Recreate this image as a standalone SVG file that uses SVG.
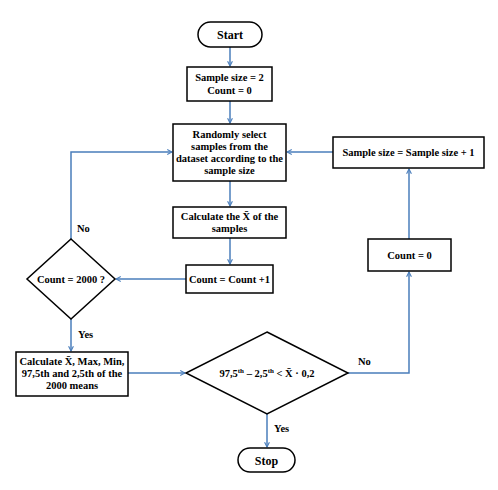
<svg xmlns="http://www.w3.org/2000/svg" width="498" height="490" viewBox="0 0 498 490">
<style>
.s{fill:#fff;stroke:#000;stroke-width:1.5}
.t{font-family:"Liberation Serif","Times New Roman",serif;font-weight:bold;font-size:10.5px;fill:#000;text-anchor:middle}
.c{fill:none;stroke:#4a7ebb;stroke-width:1.5}
.l{font-family:"Liberation Serif","Times New Roman",serif;font-weight:bold;font-size:10.5px;fill:#000}
</style>
<defs>
<marker id="a" viewBox="0 0 10 10" refX="9" refY="5" markerWidth="6" markerHeight="6" orient="auto" markerUnits="userSpaceOnUse">
<path d="M1,1 L9,5 L1,9" fill="none" stroke="#4a7ebb" stroke-width="1.8"/>
</marker>
</defs>
<rect width="498" height="490" fill="#fff"/>
<g id="connectors">
<path class="c" d="M230,47 V66" marker-end="url(#a)"/>
<path class="c" d="M230,101 V123" marker-end="url(#a)"/>
<path class="c" d="M230,181 V206" marker-end="url(#a)"/>
<path class="c" d="M230,238 V264" marker-end="url(#a)"/>
<path class="c" d="M186,279 H116" marker-end="url(#a)"/>
<path class="c" d="M71,239 V152 H172" marker-end="url(#a)"/>
<path class="c" d="M71,319 V351" marker-end="url(#a)"/>
<path class="c" d="M128,373 H185" marker-end="url(#a)"/>
<path class="c" d="M267,414 V447" marker-end="url(#a)"/>
<path class="c" d="M348,373 H409 V272" marker-end="url(#a)"/>
<path class="c" d="M409,239 V169" marker-end="url(#a)"/>
<path class="c" d="M333,152 H287" marker-end="url(#a)"/>
<text class="l" x="77" y="232">No</text>
<text class="l" x="78" y="338">Yes</text>
<text class="l" x="274" y="432">Yes</text>
<text class="l" x="358" y="365">No</text>
</g>
<g id="start">
<rect class="s" x="198" y="22" width="64" height="25" rx="12.5"/>
<text class="t" x="230" y="39" style="font-size:12px">Start</text>
</g>
<g id="init">
<rect class="s" x="187" y="67" width="85" height="34"/>
<text class="t" x="229.5" y="81">Sample size = 2</text>
<text class="t" x="229.5" y="94">Count = 0</text>
</g>
<g id="select">
<rect class="s" x="173" y="124" width="113" height="57"/>
<text class="t" x="229.5" y="138">Randomly select</text>
<text class="t" x="229.5" y="150">samples from the</text>
<text class="t" x="229.5" y="162">dataset according to the</text>
<text class="t" x="229.5" y="174">sample size</text>
</g>
<g id="mean">
<rect class="s" x="173" y="207" width="113" height="31"/>
<text class="t" x="229.5" y="220">Calculate the X̄ of the</text>
<text class="t" x="229.5" y="232">samples</text>
</g>
<g id="count">
<rect class="s" x="186" y="265" width="87" height="28"/>
<text class="t" x="229.5" y="283">Count = Count +1</text>
</g>
<g id="check2000">
<polygon class="s" points="71,239 115,279 71,319 27,279"/>
<text class="t" x="71" y="282.5">Count = 2000 ?</text>
</g>
<g id="stats">
<rect class="s" x="16" y="352" width="112" height="44"/>
<text class="t" x="72" y="365">Calculate X̄, Max, Min,</text>
<text class="t" x="72" y="377">97,5th and 2,5th of the</text>
<text class="t" x="72" y="389">2000 means</text>
</g>
<g id="criterion">
<polygon class="s" points="267,332 348,373 267,414 186,373"/>
<text class="t" x="267" y="376.5">97,5<tspan dy="-3.5" font-size="7">th</tspan><tspan dy="3.5"> – 2,5</tspan><tspan dy="-3.5" font-size="7">th</tspan><tspan dy="3.5"> &lt;  X̄ · 0,2</tspan></text>
</g>
<g id="stop">
<rect class="s" x="238" y="448" width="57" height="24" rx="12"/>
<text class="t" x="266.5" y="464.5" style="font-size:12px">Stop</text>
</g>
<g id="reset">
<rect class="s" x="368" y="239" width="83" height="32"/>
<text class="t" x="409.5" y="258.5">Count = 0</text>
</g>
<g id="increment">
<rect class="s" x="333" y="137" width="151" height="31"/>
<text class="t" x="408.5" y="156">Sample size = Sample size + 1</text>
</g>
</svg>
